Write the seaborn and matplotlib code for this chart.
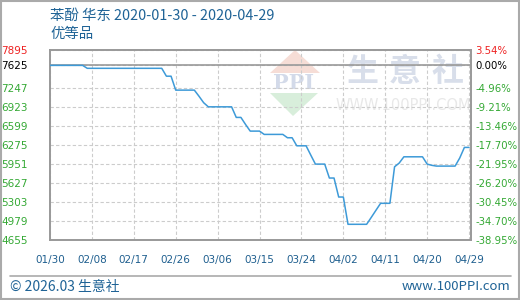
import matplotlib
matplotlib.use("Agg")
import matplotlib.pyplot as plt
from matplotlib.patches import Polygon, Rectangle
from matplotlib.lines import Line2D
import seaborn as sns
import pandas as pd

# ---- data ----
dates = ["2020-01-30", "2020-02-06", "2020-02-07", "2020-02-23", "2020-02-24", "2020-02-25",
         "2020-02-26", "2020-03-01", "2020-03-02", "2020-03-03", "2020-03-04", "2020-03-09",
         "2020-03-10", "2020-03-11", "2020-03-12", "2020-03-13", "2020-03-15", "2020-03-16",
         "2020-03-20", "2020-03-21", "2020-03-22", "2020-03-23", "2020-03-25", "2020-03-26",
         "2020-03-27", "2020-03-29", "2020-03-30", "2020-03-31", "2020-04-01", "2020-04-02",
         "2020-04-03", "2020-04-07", "2020-04-08", "2020-04-09", "2020-04-10", "2020-04-12",
         "2020-04-13", "2020-04-14", "2020-04-15", "2020-04-19", "2020-04-20", "2020-04-21",
         "2020-04-22", "2020-04-26", "2020-04-27", "2020-04-28", "2020-04-29"]
prices = [7625, 7625, 7575, 7575, 7441, 7441,
          7204, 7204, 7100, 6990, 6920, 6920,
          6740, 6740, 6620, 6507, 6507, 6451,
          6451, 6394, 6394, 6257, 6257, 6100,
          5946, 5946, 5709, 5709, 5386, 5386,
          4922, 4922, 5040, 5160, 5279, 5279,
          5900, 5964, 6070, 6070, 5946, 5925,
          5912, 5912, 6050, 6230, 6230]

y_ticks = [7895, 7625, 7247, 6923, 6599, 6275, 5951, 5627, 5303, 4979, 4655]
pct_labels = ["3.54%", "0.00%", "-4.96%", "-9.21%", "-13.46%", "-17.70%",
              "-21.95%", "-26.20%", "-30.45%", "-34.70%", "-38.95%"]
x_tick_labels = ["01/30", "02/08", "02/17", "02/26", "03/06", "03/15",
                 "03/24", "04/02", "04/11", "04/20", "04/29"]

title_text = "苯酚 华东 2020-01-30 - 2020-04-29"
subtitle_text = "优等品"
footer_left = "© 2026.03 生意社"
footer_right = "www.100PPI.com"

df = pd.DataFrame({"date": pd.to_datetime(dates), "price": prices})

sns.set_style("white")
plt.rcParams["font.family"] = ["DejaVu Sans", "Noto Sans CJK SC"]
CJK = ["Noto Sans CJK SC", "DejaVu Sans"]

W, H = 520, 300
fig = plt.figure(figsize=(W / 100, H / 100), dpi=100)

def fx(px):
    return px / W

def fy(py):
    return 1 - py / H

L, R, T, B = 50, 471, 49.5, 240
ax = fig.add_axes([fx(L), fy(B), fx(R) - fx(L), fy(T) - fy(B)])
ax.patch.set_alpha(0)

# ---- watermark (behind axes) ----
wm_tf = fig.transFigure
fig.patches.append(Polygon([[fx(270), fy(73)], [fx(295), fy(50)], [fx(320), fy(73)]],
                           closed=True, transform=wm_tf, facecolor="#f6ddd6",
                           edgecolor="none", zorder=-5))
fig.patches.append(Polygon([[fx(270), fy(93)], [fx(318), fy(93)], [fx(293), fy(116)]],
                           closed=True, transform=wm_tf, facecolor="#d8eedb",
                           edgecolor="none", zorder=-5))
fig.text(fx(294), fy(83), "PPI", ha="center", va="center", fontsize=15,
         family="DejaVu Serif", weight="bold", color="#d3dae9", zorder=-4)
for cx, ch in zip([362, 405, 448], "生意社"):
    fig.text(fx(cx), fy(72), ch, ha="center", va="center", fontsize=23,
             family=CJK, weight="bold", color="#d8deea", zorder=-4)
fig.text(fx(403), fy(106), "WWW.100PPI.COM", ha="center", va="center", fontsize=10.5,
         color="#e8e8e8", zorder=-4)

# ---- line ----
sns.lineplot(data=df, x="date", y="price", ax=ax, color="#3d9ad8", linewidth=1.1, zorder=3)

x0 = pd.Timestamp("2020-01-30")
x1 = pd.Timestamp("2020-04-29")
ax.set_xlim(x0, x1 + pd.Timedelta(hours=10))
ax.set_ylim(y_ticks[-1], y_ticks[0])

xt = pd.date_range(x0, x1, freq="9D")
ax.set_xticks(xt)
ax.set_xticklabels(x_tick_labels)
ax.set_yticks(y_ticks)
ax.set_yticklabels([str(v) for v in y_ticks])

ax.grid(True, color="#cccccc", linestyle=(0, (3, 2)), linewidth=0.8)
ax.axhline(7625, color="#999999", linewidth=1.2, zorder=2)
ax.set_xlabel("")
ax.set_ylabel("")

for s in ax.spines.values():
    s.set_color("#999999")
    s.set_linewidth(1.4)

ax.tick_params(axis="x", length=0, pad=11, labelsize=7.5, labelcolor="#1f5f8f")
ax.tick_params(axis="y", length=0, pad=16, labelsize=7.5)
green = "#33a833"
for lab, v in zip(ax.get_yticklabels(), y_ticks):
    lab.set_color("#ee2222" if v == 7895 else ("#000000" if v == 7625 else green))

ax2 = ax.twinx()
ax2.set_ylim(ax.get_ylim())
ax2.set_yticks(y_ticks)
ax2.set_yticklabels(pct_labels)
ax2.tick_params(axis="y", length=0, pad=3, labelsize=7.3)
for lab, v in zip(ax2.get_yticklabels(), y_ticks):
    lab.set_color("#ee2222" if v == 7895 else ("#000000" if v == 7625 else green))
for s in ax2.spines.values():
    s.set_visible(False)
ax2.grid(False)

# ---- titles and footer ----
fig.text(fx(50), fy(16), title_text, ha="left", va="center", fontsize=10.4,
         family=CJK, color="#1f6396")
fig.text(fx(50), fy(34), subtitle_text, ha="left", va="center", fontsize=10.4,
         family=CJK, color="#1f6396")
fig.text(fx(10), fy(287), footer_left, ha="left", va="center", fontsize=10,
         family=CJK, color="#1f6396")
fig.text(fx(510), fy(287), footer_right, ha="right", va="center", fontsize=9.5,
         family=CJK, color="#1f6396")
fig.lines.append(Line2D([fx(10), fx(511)], [fy(275.5), fy(275.5)], transform=wm_tf,
                        color="#aaaaaa", linewidth=1.2))
fig.patches.append(Rectangle((fx(0.75), fy(299.25)), fx(518.5), 1 - fy(298.5),
                             transform=wm_tf, fill=False, edgecolor="#aaaaaa",
                             linewidth=1.5))

fig.savefig("out.png", dpi=100)
